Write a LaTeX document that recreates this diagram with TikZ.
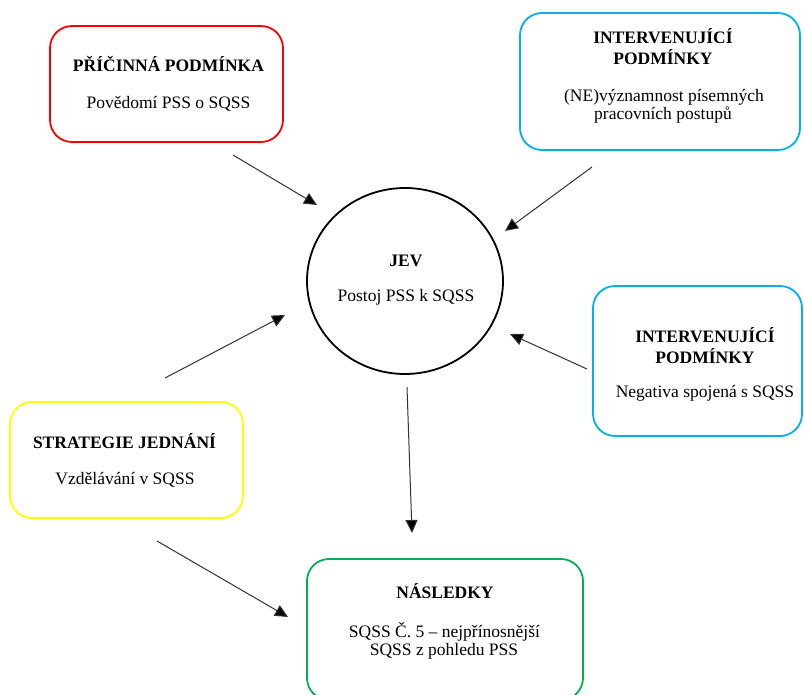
\documentclass[tikz,border=0pt]{standalone}
\usepackage{fontspec}
\setmainfont{Liberation Serif}
\usetikzlibrary{arrows.meta,shapes.geometric}
\definecolor{cred}{RGB}{255,0,0}
\definecolor{cblue}{RGB}{0,176,240}
\definecolor{cyellow}{RGB}{255,255,0}
\definecolor{cgreen}{RGB}{0,176,80}
\begin{document}
\begin{tikzpicture}[x=1pt,y=-1pt,
  box/.style={draw, line width=1.8pt, rounded corners=22pt, rectangle, inner sep=0pt},
  ttl/.style={anchor=base, inner sep=0pt, font=\fontsize{17.5}{20}\selectfont\bfseries},
  txt/.style={anchor=base, inner sep=0pt, font=\fontsize{17.5}{20}\selectfont},
  conn/.style={draw=black!80, line width=1pt, -{Triangle[length=13pt,width=12pt,fill=black]}}]
\useasboundingbox (0,0) rectangle (804,695);
\fill[white] (0,0) rectangle (804,695);

% boxes
\node[box, draw=cred, minimum width=233pt, minimum height=116pt] (cause) at (166.5,84) {};
\node[box, draw=cblue, minimum width=280pt, minimum height=137pt] (intA) at (660,81.5) {};
\node[box, draw=cblue, minimum width=209pt, minimum height=150pt] (intB) at (697.5,361) {};
\node[box, draw=cyellow, minimum width=233pt, minimum height=116pt] (strat) at (126.5,460) {};
\node[box, draw=cgreen, minimum width=276pt, minimum height=141pt] (cons) at (445,629.5) {};
\node[ellipse, draw, line width=1.8pt, minimum width=196pt, minimum height=186pt, inner sep=0pt] (jev) at (405,281) {};

% texts
\node[ttl] (causeT) at (168.5,72) {PŘÍČINNÁ PODMÍNKA};
\node[txt] (causeB) at (168.5,109) {Povědomí PSS o SQSS};

\node[ttl] (intAT1) at (663,44) {INTERVENUJÍCÍ};
\node[ttl] (intAT2) at (663,65) {PODMÍNKY};
\node[txt] (intAB1) at (664,102) {(NE)významnost písemných};
\node[txt] (intAB2) at (663,120) {pracovních postupů};

\node[ttl] (intBT1) at (705,343) {INTERVENUJÍCÍ};
\node[ttl] (intBT2) at (705,363) {PODMÍNKY};
\node[txt] (intBB) at (705,397) {Negativa spojená s SQSS};

\node[ttl] (stratT) at (124.5,448) {STRATEGIE JEDNÁNÍ};
\node[txt] (stratB) at (125,484) {Vzdělávání v SQSS};

\node[ttl] (consT) at (445,598) {NÁSLEDKY};
\node[txt] (consB1) at (444.5,637) {SQSS Č. 5 – nejpřínosnější};
\node[txt] (consB2) at (444,655) {SQSS z pohledu PSS};

\node[ttl] (jevT) at (406,267) {JEV};
\node[txt] (jevB) at (406,302) {Postoj PSS k SQSS};

% connector ends
\coordinate (a1s) at (233,155); \coordinate (a1e) at (317,205);
\coordinate (a2s) at (592,167); \coordinate (a2e) at (505,231);
\coordinate (a3s) at (587,369); \coordinate (a3e) at (510,334);
\coordinate (a4s) at (165,378); \coordinate (a4e) at (285,315);
\coordinate (a5s) at (407,387); \coordinate (a5e) at (412,533);
\coordinate (a6s) at (157,541); \coordinate (a6e) at (288,617);

\draw[conn] (a1s) -- (a1e);
\draw[conn] (a2s) -- (a2e);
\draw[conn] (a3s) -- (a3e);
\draw[conn] (a4s) -- (a4e);
\draw[conn] (a5s) -- (a5e);
\draw[conn] (a6s) -- (a6e);
\end{tikzpicture}
\end{document}
